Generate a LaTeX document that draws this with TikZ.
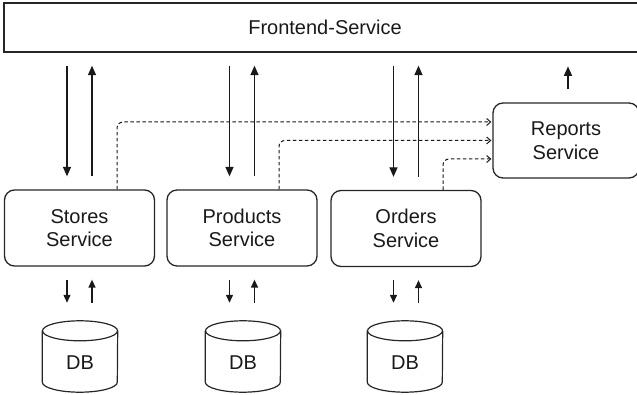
\documentclass[tikz,border=0pt]{standalone}
\usepackage{fontspec}
\setmainfont{Liberation Sans}
\usetikzlibrary{arrows.meta,calc}

\tikzset{
  x=1pt, y=1pt,
  every node/.style={font=\fontsize{20pt}{23.5pt}\selectfont, text=black!90},
  svcbox/.style={draw=black!85, line width=1.3pt, rounded corners=10pt,
    minimum width=150pt, minimum height=76pt, inner sep=0pt, align=center},
  frontbox/.style={draw=black!85, line width=1.3pt, minimum height=49pt, inner sep=0pt},
  dbnode/.style={minimum width=75pt, minimum height=71pt, inner sep=0pt},
  dbshape/.style={draw=black!85, line width=1.2pt},
  callarrow/.style={line width=1.3pt, draw=black!90, -{Triangle[length=9.5pt,width=8pt]}},
  dbarrow/.style={line width=1.3pt, draw=black!90, -{Triangle[length=8pt,width=7pt]}},
  eventarrow/.style={line width=1pt, draw=black!90, dash pattern=on 3.5pt off 2.5pt,
    rounded corners=6pt, -{Straight Barb[length=4pt,width=7pt]}, shorten >=1pt}
}
% DB label, set a little below the middle of the cylinder body
\newcommand{\dblabel}{\raisebox{-13pt}[0pt][0pt]{DB}}

\begin{document}
\begin{tikzpicture}
\useasboundingbox (0,0) rectangle (637,-395);

% front tier
\node[frontbox, minimum width=642pt] (front) at (325,-27.5) {Frontend-Service};

% services
\node[svcbox] (stores)   at (79.5,-228) {Stores\\Service};
\node[svcbox] (products) at (242,-228)  {Products\\Service};
\node[svcbox] (orders)   at (406,-228.5) {Orders\\Service};
\node[svcbox, minimum width=146pt, minimum height=75pt] (reports) at (566,-140.5) {Reports\\Service};

% databases
\node[dbnode] (db1) at (80,-356.5)  {\dblabel};
\node[dbnode] (db2) at (243,-356.5) {\dblabel};
\node[dbnode] (db3) at (405,-356.5) {\dblabel};
\foreach \d in {db1,db2,db3}{
  \draw[dbshape] ([yshift=-10pt]\d.north) ellipse [x radius=37.5pt, y radius=10pt];
  \draw[dbshape] ([yshift=-10pt]\d.north west) -- ([yshift=10pt]\d.south west)
    arc[start angle=180, end angle=360, x radius=37.5pt, y radius=10pt]
    -- ([yshift=-10pt]\d.north east);
}

% requests and responses between frontend and services
\foreach \s in {stores,products,orders}{
  \draw[callarrow, shorten <=13pt, shorten >=13pt]
    ([xshift=-12.5pt]\s.north |- front.south) -- ([xshift=-12.5pt]\s.north);
  \draw[callarrow, shorten <=13pt, shorten >=13pt]
    ([xshift=12.5pt]\s.north) -- ([xshift=12.5pt]\s.north |- front.south);
}

% service to database traffic
\foreach \s/\d in {stores/db1,products/db2,orders/db3}{
  \draw[dbarrow, shorten <=13pt, shorten >=18pt]
    ([xshift=-12.5pt]\s.south) -- ([xshift=-12.5pt]\s.south |- \d.north);
  \draw[dbarrow, shorten <=18pt, shorten >=13pt]
    ([xshift=12.5pt]\s.south |- \d.north) -- ([xshift=12.5pt]\s.south);
}

% events feeding the reports service
\draw[eventarrow] ([xshift=37.5pt]stores.north) |- ([yshift=18.5pt]reports.west);
\draw[eventarrow] ([xshift=37pt]products.north) |- (reports.west);
\draw[eventarrow] ([xshift=37pt]orders.north) |- ([yshift=-18.5pt]reports.west);

% reports answering the frontend
\coordinate (repout) at ([xshift=2pt,yshift=36pt]reports.north);
\draw[callarrow, shorten <=13pt] ([xshift=2pt]reports.north) -- (repout);
\end{tikzpicture}
\end{document}
